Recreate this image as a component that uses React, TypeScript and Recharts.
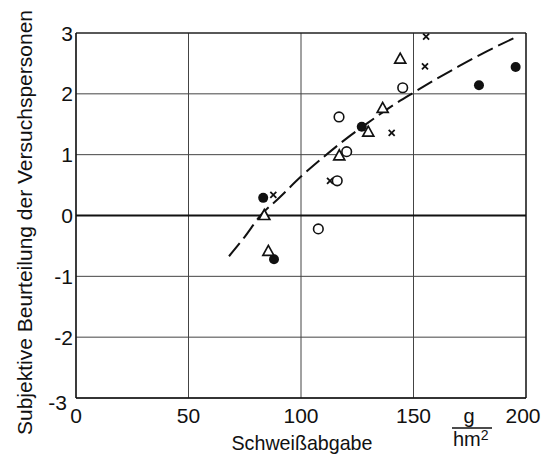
import React from "react";
import {
  ScatterChart,
  Scatter,
  XAxis,
  YAxis,
  CartesianGrid,
  ReferenceLine,
  Label,
} from "recharts";

// values
const filledDots = [
  { x: 83.2, y: 0.29 },
  { x: 88.0, y: -0.72 },
  { x: 127.0, y: 1.46 },
  { x: 179.1, y: 2.14 },
  { x: 195.4, y: 2.44 },
];

const openDots = [
  { x: 107.7, y: -0.22 },
  { x: 116.1, y: 0.57 },
  { x: 120.3, y: 1.05 },
  { x: 116.9, y: 1.62 },
  { x: 145.2, y: 2.1 },
];

const triangles = [
  { x: 83.7, y: 0.0 },
  { x: 85.5, y: -0.59 },
  { x: 117.0, y: 0.98 },
  { x: 129.9, y: 1.37 },
  { x: 136.3, y: 1.76 },
  { x: 144.1, y: 2.57 },
];

const crosses = [
  { x: 87.7, y: 0.34 },
  { x: 112.9, y: 0.57 },
  { x: 140.3, y: 1.36 },
  { x: 155.1, y: 2.45 },
  { x: 155.6, y: 2.94 },
];

const trendCurve = [
  { x: 68, y: -0.67 },
  { x: 75, y: -0.35 },
  { x: 82, y: 0.0 },
  { x: 90, y: 0.28 },
  { x: 100, y: 0.64 },
  { x: 110, y: 0.96 },
  { x: 120, y: 1.26 },
  { x: 130, y: 1.53 },
  { x: 140, y: 1.79 },
  { x: 150, y: 2.02 },
  { x: 160, y: 2.24 },
  { x: 170, y: 2.45 },
  { x: 180, y: 2.65 },
  { x: 196, y: 2.94 },
];

const xTicks = [0, 50, 100, 150, 200];
const yTicks = [-3, -2, -1, 0, 1, 2, 3];

const FONT = "'Liberation Sans Narrow', 'Liberation Sans', Arial, sans-serif";
const INK = "#111";

const FilledDot = (p: any) => <circle cx={p.cx} cy={p.cy} r={5} fill={INK} />;
const OpenDot = (p: any) => (
  <circle cx={p.cx} cy={p.cy} r={4.8} fill="#fff" stroke={INK} strokeWidth={1.6} />
);
const Triangle = (p: any) => (
  <path
    d={`M${p.cx},${p.cy - 6} L${p.cx - 5.5},${p.cy + 4} L${p.cx + 5.5},${p.cy + 4} Z`}
    fill="#fff"
    stroke={INK}
    strokeWidth={1.7}
    strokeLinejoin="miter"
  />
);
const Cross = (p: any) => (
  <path
    d={`M${p.cx - 3},${p.cy - 3} L${p.cx + 3},${p.cy + 3} M${p.cx - 3},${p.cy + 3} L${p.cx + 3},${p.cy - 3}`}
    stroke={INK}
    strokeWidth={1.8}
  />
);
const NoDot = () => <g />;

const XTick = (p: any) => {
  const v = p.payload.value;
  return (
    <text x={p.x - (v === 200 ? 3 : 0)} y={p.y + 17} textAnchor="middle" fontSize={21} fontFamily={FONT} fill={INK}>
      {v}
    </text>
  );
};

const YTick = (p: any) => {
  const v = p.payload.value;
  const low = v === -3;
  return (
    <text
      x={p.x + 5 - (low ? 6 : 0)}
      y={p.y + 7.5 + (low ? 4 : 0)}
      textAnchor="end"
      fontSize={21}
      fontFamily={FONT}
      fill={INK}
    >
      {v}
    </text>
  );
};

const XTitle = () => (
  <g fontFamily={FONT} fill={INK}>
    <text x={302} y={450} textAnchor="middle" fontSize={21} textLength={141} lengthAdjust="spacingAndGlyphs">
      Schweißabgabe
    </text>
    <text x={469} y={423} textAnchor="middle" fontSize={20}>
      g
    </text>
    <line x1={452} y1={428} x2={492} y2={428} stroke={INK} strokeWidth={1.6} />
    <text x={453} y={446} fontSize={20}>
      hm
      <tspan dy={-6} fontSize={14}>
        2
      </tspan>
    </text>
  </g>
);

const YTitle = () => (
  <text
    x={222.5}
    y={32}
    transform="rotate(-90 222.5 222.5) translate(0 0)"
    textAnchor="middle"
    fontSize={21}
    fontFamily={FONT}
    fill={INK}
    textLength={425}
    lengthAdjust="spacingAndGlyphs"
  >
    Subjektive Beurteilung der Versuchspersonen
  </text>
);

export default function App() {
  return (
    <div style={{ position: "absolute", left: 0, top: 0, width: 543, height: 454, background: "#fff" }}>
      <ScatterChart width={543} height={454} margin={{ top: 33, right: 17, bottom: 16, left: 0 }}>
        <CartesianGrid stroke="#444" strokeWidth={1} />
        <XAxis
          type="number"
          dataKey="x"
          domain={[0, 200]}
          ticks={xTicks}
          tickLine={false}
          axisLine={false}
          height={40}
          tick={<XTick />}
          interval={0}
        >
          <Label content={<XTitle />} />
        </XAxis>
        <YAxis
          type="number"
          dataKey="y"
          domain={[-3, 3]}
          ticks={yTicks}
          tickLine={false}
          axisLine={false}
          width={76}
          tick={<YTick />}
          interval={0}
        >
          <Label content={<YTitle />} />
        </YAxis>
        <ReferenceLine x={0} stroke={INK} strokeWidth={1.4} />
        <ReferenceLine x={200} stroke={INK} strokeWidth={1.2} />
        <ReferenceLine y={3} stroke={INK} strokeWidth={1.2} />
        <ReferenceLine y={-3} stroke={INK} strokeWidth={1.4} />
        <ReferenceLine y={0} stroke={INK} strokeWidth={2} />
        <Scatter
          data={trendCurve}
          line={{ stroke: INK, strokeWidth: 2, strokeDasharray: "17 6" }}
          lineType="joint"
          lineJointType="monotoneX"
          shape={<NoDot />}
          isAnimationActive={false}
        />
        <Scatter data={crosses} shape={<Cross />} isAnimationActive={false} />
        <Scatter data={filledDots} shape={<FilledDot />} isAnimationActive={false} />
        <Scatter data={openDots} shape={<OpenDot />} isAnimationActive={false} />
        <Scatter data={triangles} shape={<Triangle />} isAnimationActive={false} />
      </ScatterChart>
    </div>
  );
}
